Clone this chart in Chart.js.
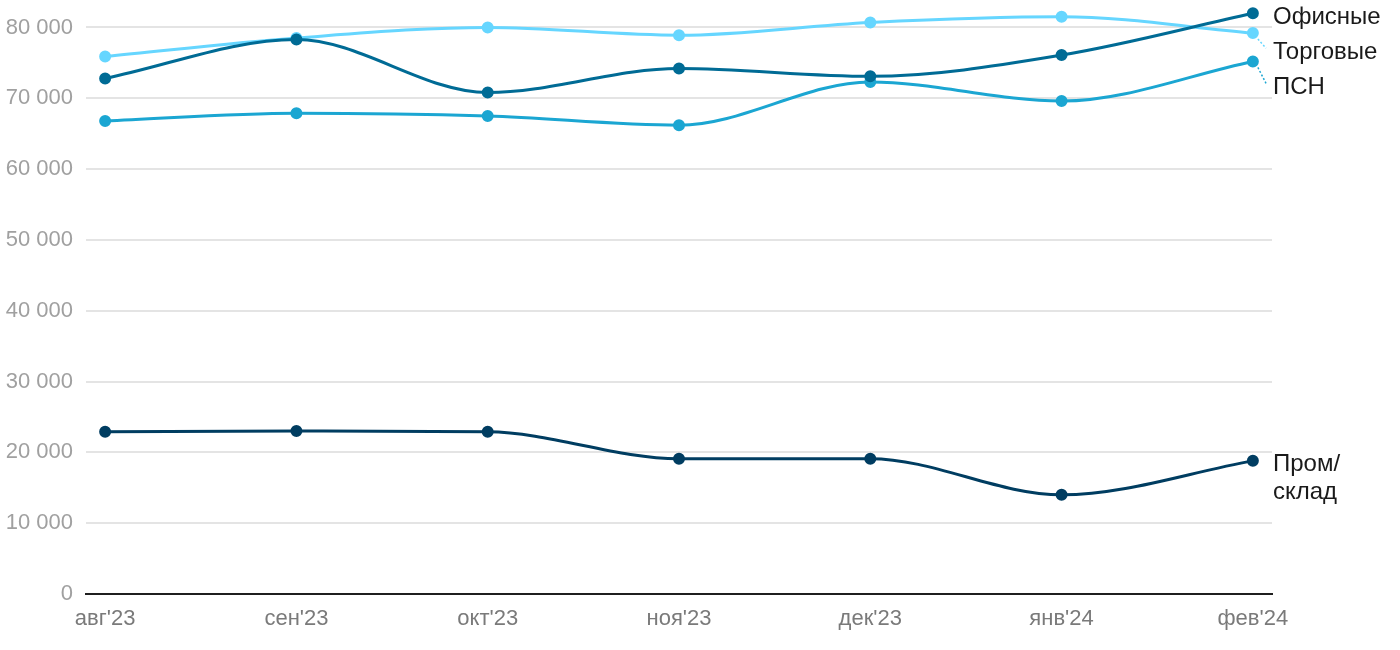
<!DOCTYPE html>
<html lang="ru">
  <head>
    <meta charset="UTF-8" />
    <title>Ставки аренды</title>
    <script src="https://cdn.jsdelivr.net/npm/chart.js@4.4.0/dist/chart.umd.min.js"></script>
    <style>
      body { margin: 0; background: #fff; }
      #wrap { width: 1400px; height: 650px; }
    </style>
  </head>
  <body>
    <div id="wrap"><canvas id="myChart" width="1400" height="650"></canvas></div>

    <script>
      const months = ["авг'23", "сен'23", "окт'23", "ноя'23", "дек'23", "янв'24", "фев'24"];
      const seriesNames = ['Офисные', 'Торговые', 'ПСН', 'Пром/склад'];
      const office = [72800, 78300, 70800, 74200, 73100, 76100, 82000];
      const retail = [75900, 78500, 80000, 78900, 80700, 81500, 79200];
      const psn = [66800, 67900, 67500, 66200, 72300, 69600, 75200];
      const industrial = [22900, 23000, 22900, 19100, 19100, 14000, 18800];
      const yTicks = [0, 10000, 20000, 30000, 40000, 50000, 60000, 70000, 80000];
      const colors = ['#006b95', '#66d6ff', '#1ba6d2', '#003d61'];

      const allSeries = [office, retail, psn, industrial];
      const FONT = '"Liberation Sans", Arial, sans-serif';

      const datasets = allSeries.map((vals, i) => ({
        label: seriesNames[i],
        data: vals.map((v, j) => ({ x: j, y: v })),
        borderColor: colors[i],
        backgroundColor: colors[i],
        borderWidth: 3,
        pointRadius: 4.5,
        pointHoverRadius: 4.5,
        cubicInterpolationMode: 'monotone',
        clip: false
      }));

      const fmt = v => String(v).replace(/\B(?=(\d{3})+(?!\d))/g, ' ');

      // end-of-line labels, pushed apart so they don't overlap
      const endLabels = {
        id: 'endLabels',
        afterDatasetsDraw(chart) {
          const ctx = chart.ctx;
          const labelX = chart.chartArea.right + 1;
          const items = chart.data.datasets.map((ds, i) => {
            const meta = chart.getDatasetMeta(i);
            const pt = meta.data[meta.data.length - 1];
            const lines = ds.label.split(/(?<=\/)/);
            return { lines, px: pt.x, py: pt.y, color: ds.borderColor };
          }).sort((a, b) => a.py - b.py);

          let prevBottom = -Infinity;
          items.forEach(it => {
            let y = Math.max(it.py + 4, 16);
            if (y < prevBottom + 35) y = prevBottom + 35;
            it.ly = y;
            prevBottom = y + (it.lines.length - 1) * 28;
          });

          ctx.save();
          ctx.font = '24px ' + FONT;
          ctx.textBaseline = 'middle';
          ctx.textAlign = 'left';
          items.forEach(it => {
            if (it.ly - (it.py + 4) > 6) {
              ctx.strokeStyle = it.color;
              ctx.lineWidth = 1.5;
              ctx.setLineDash([2, 2]);
              ctx.beginPath();
              ctx.moveTo(it.px + 5, it.py + 6);
              ctx.lineTo(labelX - 7, it.ly - 4);
              ctx.stroke();
              ctx.setLineDash([]);
            }
            ctx.fillStyle = '#1a1a1a';
            it.lines.forEach((ln, k) => ctx.fillText(ln, labelX, it.ly + k * 28));
          });
          ctx.restore();
        }
      };

      const ctx = document.getElementById('myChart').getContext('2d');
      const myChart = new Chart(ctx, {
        type: 'line',
        data: { datasets: datasets },
        plugins: [endLabels],
        options: {
          responsive: false,
          animation: false,
          layout: { padding: { top: 0, right: 128, bottom: 0, left: 0 } },
          plugins: { legend: { display: false }, tooltip: { enabled: false } },
          scales: {
            x: {
              type: 'linear',
              min: -0.1,
              max: 6.1,
              afterBuildTicks: s => { s.ticks = months.map((m, i) => ({ value: i })); },
              afterFit: s => { s.height = 56; },
              grid: { display: false, drawTicks: false },
              border: { display: true, color: '#1f1f1f', width: 2 },
              ticks: {
                padding: 12,
                color: '#7a7a7a',
                font: { family: FONT, size: 22 },
                maxRotation: 0,
                autoSkip: false,
                callback: v => months[v]
              }
            },
            y: {
              min: 0,
              max: 82817,
              afterBuildTicks: s => { s.ticks = yTicks.map(v => ({ value: v })); },
              afterFit: s => { s.width = 86; s.paddingTop = 0; },
              grid: { color: '#e4e4e4', lineWidth: 2, drawTicks: false },
              border: { display: false },
              ticks: {
                padding: 13,
                color: '#a0a0a0',
                font: { family: FONT, size: 22 },
                callback: v => fmt(v)
              }
            }
          }
        }
      });
    </script>
  </body>
</html>
